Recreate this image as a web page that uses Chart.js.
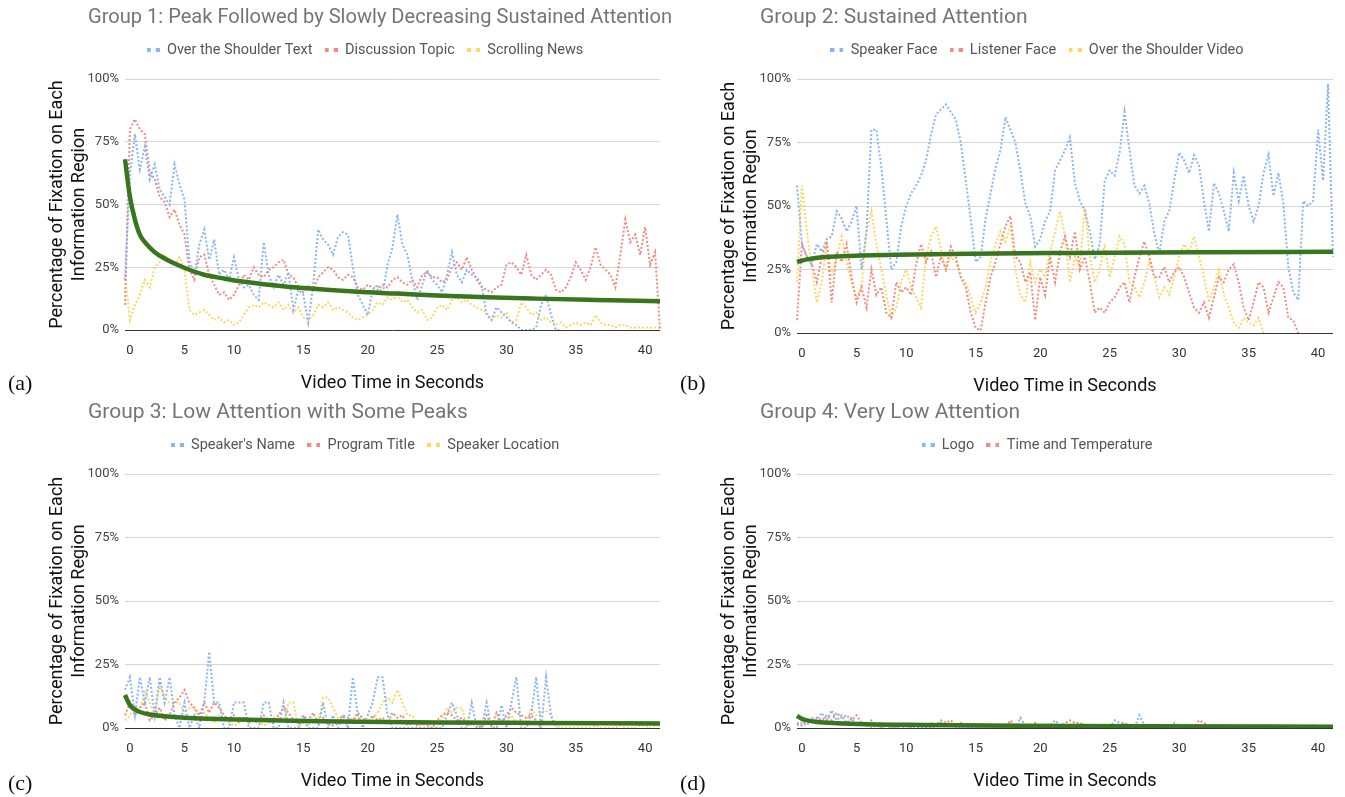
<!DOCTYPE html>
<html>
<head>
<meta charset="utf-8">
<title>Fixation on information regions</title>
<script src="https://cdn.jsdelivr.net/npm/chart.js@4.4.1/dist/chart.umd.min.js"></script>
<style>
  body { margin: 0; background: #fff; }
  #page { position: relative; width: 1345px; height: 797px; overflow: hidden; }
  #page canvas { position: absolute; }
  .tag { position: absolute; font-family: 'Liberation Serif', 'DejaVu Serif', serif; font-size: 22px; line-height: 22px; color: #111; }
</style>
</head>
<body>
<div id="page">
  <canvas id="chartA" width="672" height="398" style="left:0;top:0"></canvas>
  <canvas id="chartB" width="673" height="401" style="left:672px;top:0"></canvas>
  <canvas id="chartC" width="672" height="401" style="left:0;top:395px"></canvas>
  <canvas id="chartD" width="673" height="401" style="left:672px;top:395px"></canvas>
  <div class="tag" style="left:8px;top:372px">(a)</div>
  <div class="tag" style="left:680px;top:372px">(b)</div>
  <div class="tag" style="left:8px;top:772px">(c)</div>
  <div class="tag" style="left:680px;top:772px">(d)</div>
</div>
<script>
// x axis: 109 samples across the video, labelled every 5 seconds
var sampleCount = 109;
var timeTicks = ['0', '5', '10', '15', '20', '25', '30', '35', '40'];
var tickSlots = [1, 12, 22, 36, 49, 63, 77, 91, 105];

// group 1 (percent of fixations)
var overShoulderText = [
  20, 62, 78, 64, 73, 60, 66, 56, 53, 50,
  66, 58, 52, 28, 22, 34, 40, 28, 36, 22,
  24, 20, 29, 20, 17, 18, 14, 12, 35, 22,
  17, 22, 18, 23, 8, 16, 14, 3, 18, 40,
  36, 34, 30, 37, 39, 38, 25, 14, 10, 6,
  16, 18, 14, 26, 33, 46, 34, 30, 20, 12,
  18, 24, 20, 18, 15, 22, 31, 22, 19, 24,
  22, 21, 18, 6, 4, 9, 7, 5, 3, 2,
  0, 0, 0, 1, 10, 14, 6, 0, 0, null,
  null, null, null, null, null, null, null, null, null, null,
  null, null, null, null, null, null, null, null, null
];
var discussionTopic = [
  10, 80, 84, 80, 78, 63, 60, 53, 51, 45,
  48, 42, 38, 24, 20, 29, 30, 22, 18, 14,
  15, 12, 14, 18, 22, 20, 25, 22, 21, 24,
  25, 27, 28, 22, 21, 17, 15, 18, 16, 21,
  23, 25, 24, 21, 20, 22, 21, 17, 16, 18,
  17, 16, 18, 17, 20, 21, 19, 18, 20, 17,
  22, 23, 21, 21, 19, 20, 25, 27, 24, 29,
  24, 20, 17, 16, 15, 17, 18, 26, 27, 25,
  22, 30, 22, 20, 22, 24, 22, 16, 15, 17,
  21, 27, 24, 20, 25, 33, 26, 24, 22, 17,
  30, 44, 35, 38, 30, 41, 26, 31, 0
];
var scrollingNews = [
  22, 4, 10, 14, 20, 17, 25, 27, 30, 27,
  26, 29, 24, 8, 6, 7, 8, 6, 4, 5,
  3, 4, 2, 3, 6, 9, 10, 9, 11, 10,
  9, 11, 8, 10, 7, 9, 5, 4, 6, 10,
  9, 11, 8, 9, 8, 7, 5, 4, 5, 6,
  8, 11, 10, 13, 12, 14, 11, 12, 9, 7,
  8, 4, 5, 9, 10, 8, 12, 13, 11, 12,
  10, 9, 8, 7, 4, 6, 5, 7, 3, 4,
  11, 9, 6, 7, 4, 5, 3, 2, 3, 1,
  2, 3, 2, 3, 2, 6, 3, 2, 2, 1,
  2, 2, 1, 1, 1, 1, 1, 1, 1
];
var trendGroup1 = [[0, 68], [1, 53], [2, 44], [3, 38], [4, 35], [6, 31], [8, 28.5], [10, 26.5],
  [13, 24], [16, 22], [20, 20.5], [23, 19.5], [30, 17.8], [36, 16.7], [47, 15.2], [55, 14.5],
  [63, 13.7], [73, 13], [83, 12.5], [95, 12], [108, 11.5]];

// group 2
var speakerFace = [
  58, 35, 30, 27, 35, 32, 37, 38, 48, 45,
  40, 44, 50, 25, 40, 80, 80, 65, 45, 25,
  28, 42, 50, 55, 58, 62, 68, 78, 86, 88,
  90, 87, 84, 75, 60, 45, 28, 30, 45, 55,
  65, 72, 85, 80, 75, 64, 51, 46, 34, 37,
  44, 48, 64, 68, 72, 77, 59, 52, 48, 40,
  29, 35, 60, 64, 62, 71, 87, 72, 58, 55,
  58, 51, 39, 31, 44, 48, 60, 71, 68, 63,
  70, 66, 52, 40, 59, 55, 48, 40, 63, 52,
  62, 50, 44, 50, 63, 70, 54, 63, 51, 26,
  16, 13, 52, 50, 52, 80, 60, 98, 30
];
var listenerFace = [
  5, 35, 30, 27, 20, 30, 36, 12, 32, 28,
  35, 22, 12, 18, 10, 25, 15, 18, 8, 6,
  20, 16, 18, 15, 27, 35, 28, 32, 22, 30,
  25, 34, 30, 22, 18, 8, 2, 1, 12, 22,
  28, 35, 42, 46, 30, 28, 20, 24, 5, 22,
  15, 30, 20, 32, 38, 30, 40, 25, 30, 20,
  8, 10, 8, 12, 14, 18, 20, 12, 22, 30,
  36, 30, 22, 22, 26, 20, 24, 26, 22, 16,
  10, 8, 12, 6, 14, 22, 20, 25, 27, 20,
  10, 5, 12, 20, 18, 8, 14, 20, 18, 6,
  5, 0, null, null, null, null, null, null, null
];
var overShoulderVideo = [
  20, 58, 40, 25, 12, 20, 35, 22, 30, 38,
  28, 20, 14, 18, 40, 48, 35, 25, 15, 6,
  10, 20, 25, 18, 14, 10, 30, 38, 42, 33,
  25, 30, 28, 22, 20, 14, 8, 12, 18, 28,
  35, 40, 36, 42, 25, 15, 12, 28, 20, 25,
  22, 32, 40, 48, 38, 20, 30, 26, 50, 30,
  20, 25, 35, 22, 30, 38, 35, 20, 18, 14,
  20, 28, 22, 14, 18, 15, 22, 30, 35, 32,
  38, 30, 22, 12, 18, 25, 15, 10, 4, 2,
  6, 4, 3, 6, 0, null, null, null, null, null,
  null, null, null, null, null, null, null, null, null
];
var trendGroup2 = [[0, 28], [2, 29], [5, 29.8], [10, 30.3], [20, 30.8], [35, 31.2], [55, 31.5], [80, 31.8], [108, 32]];

// group 3
var speakersName = [
  15, 20, 5, 20, 10, 20, 5, 20, 10, 20,
  5, 0, 10, 0, 5, 0, 10, 30, 10, 10,
  0, 0, 10, 10, 10, 0, 0, 0, 10, 10,
  0, 0, 10, 0, 0, 0, 5, 0, 0, 0,
  10, 0, 5, 0, 5, 0, 20, 5, 0, 5,
  10, 20, 20, 5, 0, 0, 0, 0, 0, 0,
  0, 0, 0, 0, 0, 5, 10, 5, 0, 0,
  10, 0, 0, 10, 0, 0, 9, 0, 10, 20,
  0, 0, 5, 20, 0, 20, 5, 0, null, null,
  null, null, null, null, null, null, null, null, null, null,
  null, null, null, null, null, null, null, null, null
];
var programTitle = [
  5, 10, 5, 8, 10, 3, 5, 8, 3, 5,
  10, 12, 15, 10, 8, 5, 10, 6, 10, 8,
  5, 3, 5, 2, 4, 2, 3, 2, 5, 3,
  2, 5, 8, 6, 3, 2, 5, 3, 6, 2,
  4, 2, 1, 3, 5, 4, 3, 6, 4, 2,
  5, 3, 4, 2, 6, 4, 5, 1, 2, 1,
  2, 1, 0, 3, 5, 6, 5, 3, 4, 2,
  1, 2, 0, 5, 1, 6, 2, 5, 8, 6,
  5, 4, 5, 3, 0, null, null, null, null, null,
  null, null, null, null, null, null, null, null, null, null,
  null, null, null, null, null, null, null, null, null
];
var speakerLocation = [
  3, 5, 8, 6, 15, 10, 5, 17, 12, 10,
  10, 10, 6, 8, 8, 3, 6, 4, 2, 5,
  3, 2, 1, 2, 3, 4, 2, 3, 1, 2,
  4, 5, 2, 10, 10, 0, 2, 1, 3, 2,
  12, 12, 8, 4, 3, 2, 3, 5, 3, 2,
  4, 6, 10, 12, 10, 15, 10, 5, 5, 1,
  1, 2, 1, 0, 3, 8, 6, 8, 8, 1,
  2, 1, 0, 2, 1, 0, 3, 2, 5, 2,
  1, 2, 8, 5, 6, 7, 5, 1, 0, 0,
  0, 0, 0, 0, 0, 1, 0, 0, 0, 0,
  1, 0, 0, 0, 1, 1, 0, 1, 1
];
var trendGroup3 = [[0, 13], [1, 9], [2, 7.3], [3, 6.3], [5, 5.3], [8, 4.6], [12, 4], [17, 3.6],
  [23, 3.3], [36, 2.8], [47, 2.5], [63, 2.2], [83, 2], [108, 1.8]];

// group 4
var logo = [
  1, 2, 1, 4, 3, 6, 3, 7, 3, 5,
  2, 4, 1, 2, 1, 3, 1, 0, 1, 0,
  0, 0, 1, 0, 0, 0, 0, 0, 1, 2,
  1, 1, 0, 0, 0, 0, 0, 0, 0, 0,
  0, 0, 0, 0, 0, 4, 1, 0, 0, 0,
  0, 1, 3, 1, 0, 0, 0, 0, 0, 0,
  0, 0, 0, 0, 3, 2, 2, 0, 0, 5,
  1, 0, 0, 0, 0, 0, 2, 1, 0, 0,
  0, 0, 0, 0, 0, 0, 0, 1, 0, 0,
  0, 0, 0, 0, 0, 0, 0, 0, 0, 0,
  0, 0, 0, 0, 0, 0, 0, 0, 0
];
var timeAndTemperature = [
  2, 1, 3, 2, 4, 3, 5, 3, 6, 4,
  5, 3, 5, 2, 1, 0, 1, 0, 1, 0,
  0, 1, 0, 0, 1, 0, 0, 2, 1, 3,
  2, 3, 1, 2, 1, 0, 0, 0, 0, 0,
  0, 0, 0, 3, 1, 0, 0, 0, 2, 0,
  0, 0, 0, 0, 2, 3, 2, 2, 1, 0,
  0, 0, 0, 0, 0, 1, 2, 1, 0, 0,
  0, 0, 0, 0, 0, 0, 0, 0, 0, 0,
  0, 3, 2, 1, 0, 0, 1, 0, 0, 0,
  0, 0, 0, 0, 1, 1, 0, 0, 0, 0,
  0, 0, 0, 0, 1, 0, 0, 0, 0
];
var trendGroup4 = [[0, 4.8], [1, 3.6], [2, 3], [4, 2.4], [8, 1.9], [14, 1.5], [25, 1.2], [45, 0.9], [70, 0.7], [108, 0.5]];

var BLUE = '#8ab4f8', RED = '#f28b82', YELLOW = '#fdd663', GREEN = '#38761d';

Chart.defaults.font.family = "Roboto, 'Noto Sans', sans-serif";

var xLabels = [];
for (var i = 0; i < sampleCount; i++) {
  var k = tickSlots.indexOf(i);
  xLabels.push(k < 0 ? '' : timeTicks[k]);
}

// two little squares, like the dotted-line swatch in the sheets legend
function legendMark(color) {
  var c = document.createElement('canvas');
  c.width = 13; c.height = 4;
  var g = c.getContext('2d');
  g.fillStyle = color;
  g.fillRect(0, 0, 4, 4);
  g.fillRect(9, 0, 4, 4);
  return c;
}

function trendLine(pairs) {
  var out = new Array(sampleCount).fill(null);
  pairs.forEach(function(p) { out[p[0]] = p[1]; });
  return out;
}

// more room under the legend; title starts at 88px, legend centred over 88..642
var headerLayout = {
  id: 'headerLayout',
  beforeInit: function(chart) {
    var fit = chart.legend.fit;
    chart.legend.fit = function() {
      fit.call(this);
      this.height += 11.65;
    };
  },
  afterLayout: function(chart) {
    var t = chart.titleBlock, l = chart.legend;
    t.left = 88; t.right = chart.width; t.width = chart.width - 88;
    l.left = 88; l.right = 642; l.width = 554;
  }
};

function makeChart(id, title, series, trendPairs, padRight) {
  var datasets = series.map(function(s) {
    return {
      label: s.label,
      data: s.data,
      borderColor: s.color,
      backgroundColor: s.color,
      borderWidth: 2,
      borderDash: [2, 2],
      pointRadius: 0,
      pointStyle: legendMark(s.color),
      tension: 0,
      order: 1
    };
  });
  datasets.push({
    label: 'Trend',
    isTrend: true,
    data: trendLine(trendPairs),
    borderColor: GREEN,
    backgroundColor: GREEN,
    borderWidth: 4.5,
    pointRadius: 0,
    spanGaps: true,
    cubicInterpolationMode: 'monotone',
    order: 0
  });

  return new Chart(document.getElementById(id), {
    type: 'line',
    data: { labels: xLabels, datasets: datasets },
    options: {
      responsive: false,
      animation: false,
      devicePixelRatio: 1,
      layout: { padding: { left: 0, right: padRight, top: 0, bottom: 0 } },
      plugins: {
        title: {
          display: true, text: title, align: 'start', color: '#757575',
          font: { size: 21, weight: 'normal' },
          padding: { top: 5.4, bottom: 0 }
        },
        legend: {
          labels: {
            usePointStyle: true, pointStyleWidth: 13, boxHeight: 4,
            color: '#555', font: { size: 14.5 }, padding: 12.25,
            filter: function(item, data) { return !data.datasets[item.datasetIndex].isTrend; }
          }
        },
        tooltip: { enabled: false }
      },
      scales: {
        x: {
          grid: { display: false, drawTicks: false },
          border: { display: false },
          ticks: { autoSkip: false, maxRotation: 0, padding: 12, color: '#333', font: { size: 13, lineHeight: 1.4 } },
          title: {
            display: true, text: 'Video Time in Seconds', color: '#111',
            font: { size: 18 }, padding: { top: 0, bottom: 4.2 }
          }
        },
        y: {
          min: 0, max: 100,
          grid: {
            drawTicks: false,
            color: function(c) { return c.tick && c.tick.value === 0 ? '#333' : '#d6d6d6'; }
          },
          border: { display: false },
          ticks: {
            stepSize: 25, padding: 6, color: '#444', font: { size: 13 },
            callback: function(v) { return v + '%'; }
          },
          title: {
            display: true, text: ['Percentage of Fixation on Each', 'Information Region'],
            color: '#111', font: { size: 18 }, padding: { top: 46.7, bottom: 0 }
          },
          afterFit: function(scale) { scale.width = 125; }
        }
      }
    },
    plugins: [headerLayout]
  });
}

makeChart('chartA', 'Group 1: Peak Followed by Slowly Decreasing Sustained Attention', [
  { label: 'Over the Shoulder Text', data: overShoulderText, color: BLUE },
  { label: 'Discussion Topic', data: discussionTopic, color: RED },
  { label: 'Scrolling News', data: scrollingNews, color: YELLOW }
], trendGroup1, 4);

makeChart('chartB', 'Group 2: Sustained Attention', [
  { label: 'Speaker Face', data: speakerFace, color: BLUE },
  { label: 'Listener Face', data: listenerFace, color: RED },
  { label: 'Over the Shoulder Video', data: overShoulderVideo, color: YELLOW }
], trendGroup2, 5);

makeChart('chartC', 'Group 3: Low Attention with Some Peaks', [
  { label: "Speaker's Name", data: speakersName, color: BLUE },
  { label: 'Program Title', data: programTitle, color: RED },
  { label: 'Speaker Location', data: speakerLocation, color: YELLOW }
], trendGroup3, 4);

makeChart('chartD', 'Group 4: Very Low Attention', [
  { label: 'Logo', data: logo, color: BLUE },
  { label: 'Time and Temperature', data: timeAndTemperature, color: RED }
], trendGroup4, 5);
</script>
</body>
</html>
